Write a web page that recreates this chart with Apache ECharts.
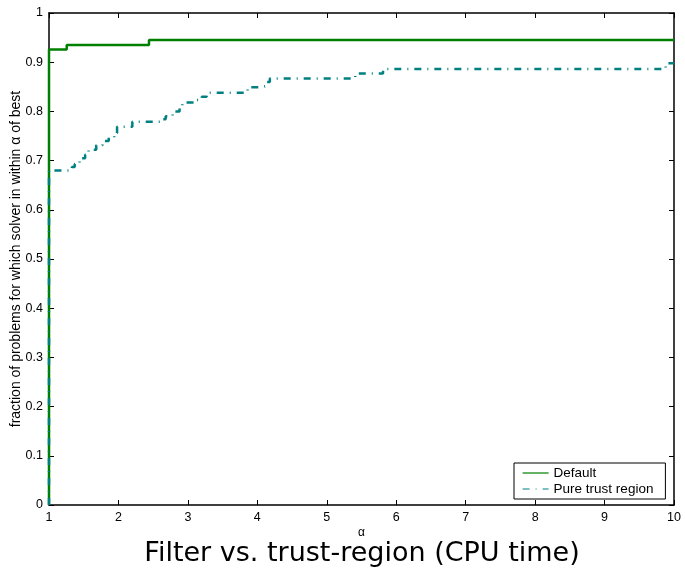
<!DOCTYPE html>
<html>
<head>
<meta charset="utf-8">
<script src="https://cdn.jsdelivr.net/npm/echarts@6/dist/echarts.min.js"></script>
<style>
  html, body { margin: 0; padding: 0; background: #fff; }
  #chart { width: 685px; height: 570px; }
</style>
</head>
<body>
<div id="chart"></div>
<script>
// performance profile data: [alpha, fraction], value changes at alpha
var defaultSteps = [[1, 0], [1, 0.926], [1.255, 0.935], [2.44, 0.945], [10, 0.945]];
var trustSteps = [
  [1, 0], [1, 0.68], [1.33, 0.687], [1.37, 0.693], [1.44, 0.705], [1.52, 0.712],
  [1.57, 0.722], [1.68, 0.731], [1.77, 0.74], [1.86, 0.747], [1.94, 0.756],
  [1.98, 0.769], [2.2, 0.779], [2.6, 0.784], [2.68, 0.79], [2.78, 0.8],
  [2.88, 0.81], [2.92, 0.818], [3.1, 0.823], [3.2, 0.83], [3.27, 0.838],
  [3.86, 0.849], [4.06, 0.852], [4.13, 0.86], [4.18, 0.867], [5.41, 0.877],
  [5.81, 0.886], [9.88, 0.898], [10, 0.898]
];
var seriesNames = ['Default', 'Pure trust region'];

var font = 'Liberation Sans, Arial, sans-serif';
var chart = echarts.init(document.getElementById('chart'));

function yLabel(v) {
  if (v === 0 || v === 1) return String(v);
  return v.toFixed(1);
}

var tickStyle = { show: true, inside: true, length: 5, lineStyle: { color: '#000' } };
var axisLine = { show: true, onZero: false, lineStyle: { color: '#000', width: 1.5 } };

chart.setOption({
  animation: false,
  backgroundColor: '#fff',
  title: {
    text: 'Filter vs. trust-region (CPU time)',
    left: 357, top: 535, textAlign: 'center',
    textStyle: { fontFamily: 'DejaVu Sans', fontWeight: 'normal', fontSize: 27, color: '#000' }
  },
  legend: {
    data: seriesNames,
    orient: 'vertical',
    left: 514, top: 463,
    padding: [3, 12, 3, 8],
    itemGap: 2,
    itemWidth: 26, itemHeight: 12,
    borderColor: '#000', borderWidth: 1,
    backgroundColor: '#fff',
    itemStyle: { opacity: 0 },
    lineStyle: { width: 1.2 },
    textStyle: { fontFamily: font, fontSize: 13.5, color: '#000' }
  },
  grid: { left: 49, right: 11, top: 13, bottom: 65, outerBoundsMode: 'none', containLabel: false },
  xAxis: [{
    type: 'value', min: 1, max: 10, interval: 1,
    name: 'α', nameLocation: 'middle', nameGap: 22, nameMoveOverlap: false,
    nameTextStyle: { fontFamily: font, fontSize: 12, color: '#000' },
    axisLine: axisLine, axisTick: tickStyle, splitLine: { show: false },
    axisLabel: { fontFamily: font, fontSize: 12.5, color: '#000', margin: 6 }
  }, {
    type: 'value', min: 1, max: 10, interval: 1, position: 'top',
    axisLine: axisLine, axisTick: tickStyle, splitLine: { show: false },
    axisLabel: { show: false }
  }],
  yAxis: [{
    type: 'value', min: 0, max: 1, interval: 0.1,
    name: 'fraction of problems for which solver in within α of best',
    nameLocation: 'middle', nameGap: 26, nameMoveOverlap: false,
    nameTextStyle: { fontFamily: font, fontSize: 14, color: '#000' },
    axisLine: axisLine, axisTick: tickStyle, splitLine: { show: false },
    axisLabel: { fontFamily: font, fontSize: 12.5, color: '#000', margin: 6, formatter: yLabel }
  }, {
    type: 'value', min: 0, max: 1, interval: 0.1, position: 'right',
    axisLine: axisLine, axisTick: tickStyle, splitLine: { show: false },
    axisLabel: { show: false }
  }],
  series: [{
    name: seriesNames[0], type: 'line', step: 'end', symbol: 'none',
    data: defaultSteps,
    itemStyle: { color: '#008000' },
    lineStyle: { color: '#008000', width: 2.5 }
  }, {
    name: seriesNames[1], type: 'line', step: 'end', symbol: 'none',
    data: trustSteps,
    itemStyle: { color: '#008080' },
    lineStyle: { color: '#008080', width: 2.5, type: [7, 6, 1, 6] }
  }]
});
</script>
</body>
</html>
